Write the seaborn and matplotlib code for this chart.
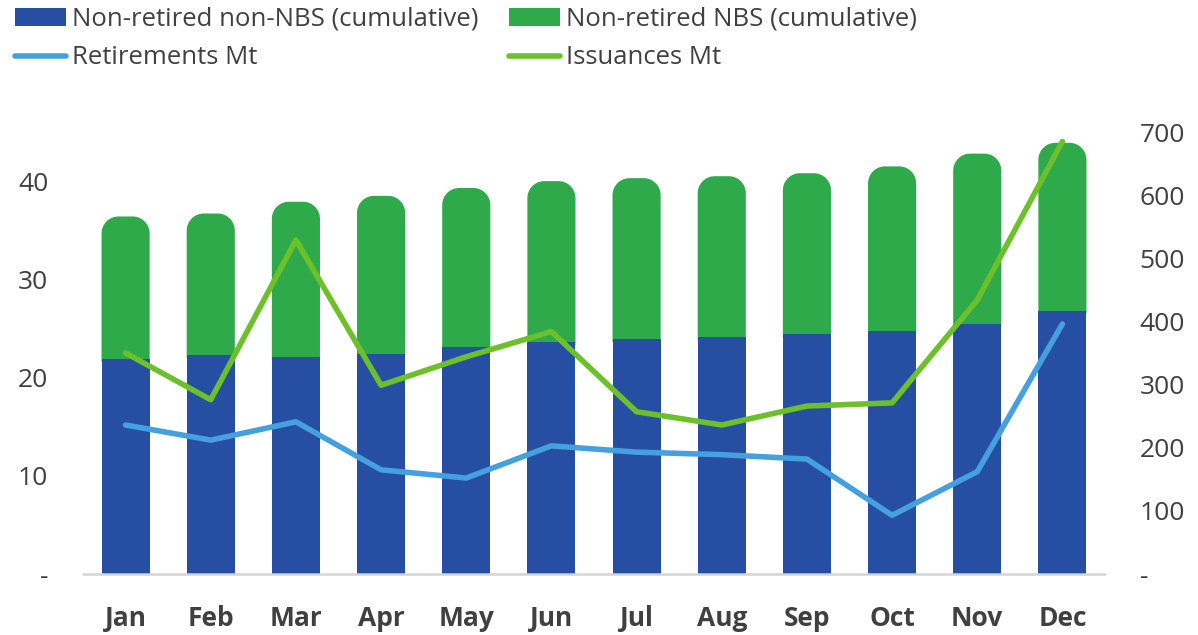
import numpy as np
import pandas as pd
import matplotlib
matplotlib.use("Agg")
import matplotlib.pyplot as plt
import seaborn as sns
from matplotlib.patches import PathPatch, Patch
from matplotlib.path import Path
from matplotlib.lines import Line2D

months = ["Jan", "Feb", "Mar", "Apr", "May", "Jun", "Jul", "Aug", "Sep", "Oct", "Nov", "Dec"]
non_nbs = [21.9, 22.3, 22.1, 22.4, 23.1, 23.6, 23.9, 24.1, 24.4, 24.7, 25.5, 26.8]
total_stock = [36.4, 36.7, 37.9, 38.5, 39.3, 40.0, 40.3, 40.5, 40.8, 41.5, 42.8, 43.9]
nbs = [t - n for t, n in zip(total_stock, non_nbs)]
retirements = [236, 212, 241, 165, 152, 203, 193, 189, 182, 93, 162, 396]
issuances = [350, 276, 529, 299, 344, 384, 257, 236, 266, 271, 434, 685]
left_ticks = [0, 10, 20, 30, 40]
left_labels = ["-", "10", "20", "30", "40"]
right_ticks = [0, 100, 200, 300, 400, 500, 600, 700]
right_labels = ["-", "100", "200", "300", "400", "500", "600", "700"]

C_BLUE = "#264EA2"
C_GREEN = "#2EAA4B"
C_RET = "#44A0DE"
C_ISS = "#6CC02A"
C_TXT = "#404040"

sns.set_theme(style="white")
plt.rcParams["font.family"] = ["Open Sans", "DejaVu Sans"]

W, H = 1198, 635
fig = plt.figure(figsize=(W / 100, H / 100), dpi=100)
ax = fig.add_axes([83 / W, (H - 574) / H, (1105 - 83) / W, (574 - 132) / H])

df = pd.DataFrame({"month": months, "non_nbs": non_nbs, "nbs": nbs, "total": total_stock})

# stacked bars: NBS on top of non-NBS
sns.barplot(data=df, x="month", y="nbs", color=C_GREEN, width=0.565, saturation=1,
            linewidth=0, edgecolor="none", ax=ax, zorder=2)
n_green = len(ax.patches)
sns.barplot(data=df, x="month", y="non_nbs", color=C_BLUE, width=0.565, saturation=1,
            linewidth=0, edgecolor="none", ax=ax, zorder=3)

ax.set_xlim(-0.5, len(months) - 0.5)
ax.set_ylim(0, 45)

# reshape green bars: stack them on the blue bars and round the top corners
ax_w_px = 1105 - 83
ax_h_px = 574 - 132
x_per_px = len(months) / ax_w_px
y_per_px = 45 / ax_h_px
radius_px = 17
rx = radius_px * x_per_px
ry = radius_px * y_per_px
green_patches = list(ax.patches)[:n_green]
blue_patches = list(ax.patches)[n_green:]
for gp, bp in zip(green_patches, blue_patches):
    x0, w = gp.get_x(), gp.get_width()
    x1 = x0 + w
    yb = bp.get_height() - 0.3
    yt = bp.get_height() + gp.get_height()
    t = np.linspace(np.pi, np.pi / 2, 20)
    left_arc = np.column_stack([x0 + rx + rx * np.cos(t), yt - ry + ry * np.sin(t)])
    t2 = np.linspace(np.pi / 2, 0, 20)
    right_arc = np.column_stack([x1 - rx + rx * np.cos(t2), yt - ry + ry * np.sin(t2)])
    verts = np.vstack([[[x0, yb]], left_arc, right_arc, [[x1, yb]], [[x0, yb]]])
    codes = [Path.MOVETO] + [Path.LINETO] * (len(verts) - 2) + [Path.CLOSEPOLY]
    gp.set_visible(False)
    ax.add_patch(PathPatch(Path(verts, codes), facecolor=C_GREEN, edgecolor="none",
                           linewidth=0, zorder=2))

ax2 = ax.twinx()
xpos = np.arange(len(months))
sns.lineplot(x=xpos, y=retirements, ax=ax2, color=C_RET, lw=4.0,
             solid_capstyle="round", solid_joinstyle="round")
sns.lineplot(x=xpos, y=issuances, ax=ax2, color=C_ISS, lw=4.0,
             solid_capstyle="round", solid_joinstyle="round")
ax2.set_ylim(0, 700)
ax2.set_xlim(-0.5, len(months) - 0.5)

for a in (ax, ax2):
    for s in a.spines.values():
        s.set_visible(False)
    a.set_xlabel("")
    a.set_ylabel("")
    a.grid(False)

ax.axhline(0, color="#D4D4D4", lw=1.8, zorder=4, clip_on=False)

ax.set_yticks(left_ticks)
ax.set_yticklabels(left_labels)
ax.tick_params(axis="y", length=0, pad=25, labelsize=19, labelcolor=C_TXT)
ax.set_xticks(xpos)
ax.set_xticklabels(months, fontweight="bold")
ax.tick_params(axis="x", length=0, pad=22, labelsize=19, labelcolor=C_TXT)
ax2.set_yticks(right_ticks)
ax2.set_yticklabels(right_labels)
ax2.tick_params(axis="y", length=0, pad=25, labelsize=19, labelcolor=C_TXT)

# legends
h1 = [Patch(facecolor=C_BLUE, edgecolor="none"),
      Line2D([], [], color=C_RET, lw=4.0, solid_capstyle="round")]
l1 = ["Non-retired non-NBS (cumulative)", "Retirements Mt"]
h2 = [Patch(facecolor=C_GREEN, edgecolor="none"),
      Line2D([], [], color=C_ISS, lw=4.0, solid_capstyle="round")]
l2 = ["Non-retired NBS (cumulative)", "Issuances Mt"]
common = dict(frameon=False, fontsize=18.5, labelcolor=C_TXT, handlelength=2.0,
              handleheight=0.65, handletextpad=0.2, labelspacing=0.52,
              borderpad=0, borderaxespad=0, loc="upper left")
leg1 = fig.legend(h1, l1, bbox_to_anchor=(15 / W, 1 - 7 / H), **common)
leg2 = fig.legend(h2, l2, bbox_to_anchor=(509 / W, 1 - 7 / H), **common)

fig.savefig("out.png", dpi=100)
